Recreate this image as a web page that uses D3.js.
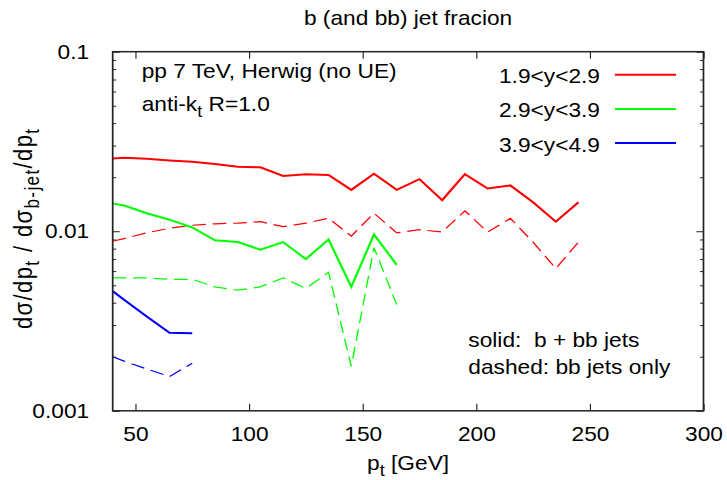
<!DOCTYPE html>
<html>
<head>
<meta charset="utf-8">
<script src="https://cdn.jsdelivr.net/npm/d3@7"></script>
<style>
  html, body { margin: 0; padding: 0; background: #fff; }
  svg { display: block; }
  text { font-family: "Liberation Sans", Arial, Helvetica, sans-serif; fill: #000; }
</style>
</head>
<body>
<script>
// transverse momentum bin centres [GeV]
const pT = [40, 45, 55, 65, 75, 85, 95, 105, 115, 125, 135, 145, 155, 165, 175, 185, 195, 205, 215, 225, 235, 245];

// 1.9<y<2.9
const fwdSolid = [0.0254, 0.0257, 0.0253, 0.0248, 0.0244, 0.0237, 0.0229, 0.0227, 0.0203, 0.0208, 0.0206, 0.0170, 0.0209, 0.0170, 0.0195, 0.0149, 0.0208, 0.0173, 0.0180, 0.0145, 0.0113, 0.0145];
const fwdDashed = [0.0088, 0.0091, 0.0098, 0.0104, 0.0108, 0.0110, 0.0111, 0.0113, 0.0106, 0.0111, 0.0118, 0.0094, 0.0126, 0.0098, 0.0102, 0.0099, 0.0130, 0.0099, 0.0118, 0.0087, 0.0062, 0.0087];
// 2.9<y<3.9
const midSolid = [0.0143, 0.0139, 0.0126, 0.0116, 0.0105, 0.0089, 0.0087, 0.0079, 0.0087, 0.0070, 0.0090, 0.0049, 0.0096, 0.0065];
const midDashed = [0.0055, 0.0055, 0.0055, 0.0054, 0.0054, 0.0049, 0.0047, 0.0049, 0.0055, 0.0048, 0.0059, 0.00177, 0.0081, 0.0039];
// 3.9<y<4.9
const farSolid = [0.00464, 0.00415, 0.00335, 0.00272, 0.0027];
const farDashed = [0.0020, 0.00189, 0.00171, 0.00155, 0.00184];

const xTicks = [50, 100, 150, 200, 250, 300];
const yMajor = [0.001, 0.01, 0.1];
const yTickLabels = ["0.001", "0.01", "0.1"];
const legendLabels = ["1.9<y<2.9", "2.9<y<3.9", "3.9<y<4.9"];
const colors = ["#ff0000", "#00ff00", "#0000ff"];

const FONT = 20;

// drawn on a 640x480 canvas, stretched to the window width
const svg = d3.select("body").append("svg")
  .attr("width", 727).attr("height", 480)
  .attr("viewBox", "0 0 640 480")
  .attr("preserveAspectRatio", "none");

const box = { l: 99.2, r: 619.3, t: 51.7, b: 410.8 };

const x = d3.scaleLinear().domain([40, 300]).range([box.l, box.r]);
const y = d3.scaleLog().domain([0.001, 0.1]).range([box.b, box.t]);

const yMinor = [];
[0.001, 0.01].forEach(d => { for (let k = 2; k <= 9; k++) yMinor.push(d * k); });

// x axis (bottom, labelled) and mirrored top ticks
const gx = svg.append("g").attr("transform", `translate(0,${box.b})`)
  .call(d3.axisBottom(x).tickValues(xTicks).tickSizeInner(-7).tickSizeOuter(0).tickPadding(16));
gx.select(".domain").remove();
gx.selectAll("text").attr("font-size", FONT).attr("font-family", null);

const gxt = svg.append("g").attr("transform", `translate(0,${box.t})`)
  .call(d3.axisTop(x).tickValues(xTicks).tickSizeInner(-7).tickSizeOuter(0).tickFormat(""));
gxt.select(".domain").remove();

// y axis, major + minor ticks, mirrored on the right
const gy = svg.append("g").attr("transform", `translate(${box.l},0)`)
  .call(d3.axisLeft(y).tickValues(yMajor).tickSizeInner(-6.2).tickSizeOuter(0).tickPadding(20.7)
    .tickFormat((d, i) => yTickLabels[i]));
gy.select(".domain").remove();
gy.selectAll("text").attr("font-size", FONT).attr("font-family", null);

const gym = svg.append("g").attr("transform", `translate(${box.l},0)`)
  .call(d3.axisLeft(y).tickValues(yMinor).tickSizeInner(-3.1).tickSizeOuter(0).tickFormat(""));
gym.select(".domain").remove();

const gyr = svg.append("g").attr("transform", `translate(${box.r},0)`)
  .call(d3.axisRight(y).tickValues(yMajor).tickSizeInner(-6.2).tickSizeOuter(0).tickFormat(""));
gyr.select(".domain").remove();
const gyrm = svg.append("g").attr("transform", `translate(${box.r},0)`)
  .call(d3.axisRight(y).tickValues(yMinor).tickSizeInner(-3.1).tickSizeOuter(0).tickFormat(""));
gyrm.select(".domain").remove();

svg.selectAll(".tick line").attr("stroke", "#222").attr("stroke-width", 1);

// plot clip
svg.append("clipPath").attr("id", "plotclip")
  .append("rect").attr("x", box.l).attr("y", box.t)
  .attr("width", box.r - box.l).attr("height", box.b - box.t);

const line = d3.line().x(d => x(d.p)).y(d => y(d.v));
const series = [
  { vals: fwdSolid, c: 0, dashed: false },
  { vals: fwdDashed, c: 0, dashed: true },
  { vals: midSolid, c: 1, dashed: false },
  { vals: midDashed, c: 1, dashed: true },
  { vals: farSolid, c: 2, dashed: false },
  { vals: farDashed, c: 2, dashed: true }
];

const plot = svg.append("g").attr("clip-path", "url(#plotclip)");
series.forEach(s => {
  const pts = s.vals.map((v, i) => ({ p: pT[i], v }));
  plot.append("path")
    .attr("d", line(pts))
    .attr("fill", "none")
    .attr("stroke", colors[s.c])
    .attr("stroke-width", s.dashed ? 1.2 : 2)
    .attr("stroke-dasharray", s.dashed ? "12,6" : null)
    .attr("stroke-linejoin", "miter");
});

// frame
svg.append("rect")
  .attr("x", box.l).attr("y", box.t)
  .attr("width", box.r - box.l).attr("height", box.b - box.t)
  .attr("fill", "none").attr("stroke", "#222").attr("stroke-width", 1.5);

// title
svg.append("text").attr("x", (box.l + box.r) / 2).attr("y", 25.5)
  .attr("text-anchor", "middle").attr("font-size", FONT)
  .text("b (and bb) jet fracion");

// annotation
svg.append("text").attr("x", 124.7).attr("y", 78.3).attr("font-size", FONT)
  .text("pp 7 TeV, Herwig (no UE)");
const ak = svg.append("text").attr("x", 124.7).attr("y", 110.7).attr("font-size", FONT);
ak.append("tspan").text("anti-k");
ak.append("tspan").attr("font-size", 16).attr("dy", 6).text("t");
ak.append("tspan").attr("dy", -6).text(" R=1.0");

// legend
legendLabels.forEach((lab, i) => {
  const base = 83.3 + i * 34.2;
  svg.append("text").attr("x", 528.2).attr("y", base)
    .attr("text-anchor", "end").attr("font-size", FONT).text(lab);
  svg.append("line")
    .attr("x1", 541.4).attr("x2", 595.1)
    .attr("y1", base - 8.6).attr("y2", base - 8.6)
    .attr("stroke", colors[i]).attr("stroke-width", 2);
});

svg.append("text").attr("x", 412.3).attr("y", 346.7).attr("font-size", FONT)
  .attr("xml:space", "preserve").text("solid:  b + bb jets");
svg.append("text").attr("x", 412.3).attr("y", 374).attr("font-size", FONT)
  .text("dashed: bb jets only");

// axis titles
const xl = svg.append("text").attr("x", (box.l + box.r) / 2).attr("y", 470)
  .attr("text-anchor", "middle").attr("font-size", FONT);
xl.append("tspan").text("p");
xl.append("tspan").attr("font-size", 16).attr("dy", 6).text("t");
xl.append("tspan").attr("dy", -6).text(" [GeV]");

const yl = svg.append("text")
  .attr("transform", `translate(28.5,229) rotate(-90)`)
  .attr("text-anchor", "middle").attr("font-size", 22)
  .attr("textLength", 200).attr("lengthAdjust", "spacing");
yl.append("tspan").text("dσ/dp");
yl.append("tspan").attr("font-size", 17).attr("dy", 6).text("t");
yl.append("tspan").attr("dy", -6).text(" / dσ");
yl.append("tspan").attr("font-size", 17).attr("dy", 6).text("b-jet");
yl.append("tspan").attr("dy", -6).text("/dp");
yl.append("tspan").attr("font-size", 17).attr("dy", 6).text("t");
</script>
</body>
</html>
